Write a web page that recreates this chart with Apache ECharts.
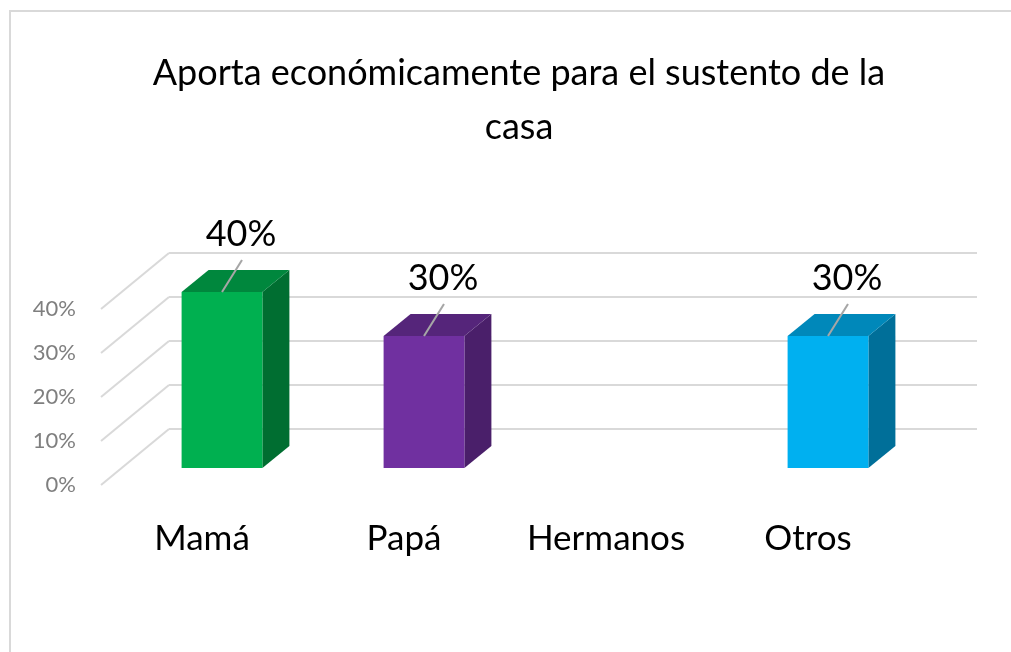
<!DOCTYPE html>
<html>
<head>
<meta charset="utf-8">
<script src="https://cdn.jsdelivr.net/npm/echarts@6/dist/echarts.min.js"></script>
<style>
  html, body { margin: 0; padding: 0; background: #fff; }
  #chart { width: 1011px; height: 652px; }
</style>
</head>
<body>
<div id="chart"></div>
<script>
// datos
var categories = ['Mamá', 'Papá', 'Hermanos', 'Otros'];
var values = [40, 30, 0, 30];
var yTicks = [0, 10, 20, 30, 40];

// colores de cada barra: frente, tapa, lado
var faceColors = ['#00B050', '#7030A0', '#00B0F0', '#00B0F0'];
var topColors = ['#00873D', '#55257A', '#0088BA', '#0088BA'];
var sideColors = ['#006E31', '#4A1F6A', '#006F99', '#006F99'];

var FONT = 'Lato';
var BAR_DEPTH = [27, -22];   // profundidad de la barra
var WALL_DEPTH = [68, -56];  // del borde del piso a la pared

var chart = echarts.init(document.getElementById('chart'));

var option = {
  backgroundColor: '#fff',
  animation: false,
  title: {
    text: 'Aporta económicamente para el sustento de la\ncasa',
    left: 514,
    top: 41,
    textAlign: 'center',
    textStyle: { fontFamily: FONT, fontWeight: 'normal', fontSize: 36, lineHeight: 54, color: '#000' }
  },
  graphic: [{
    type: 'rect',
    shape: { x: 10, y: 11, width: 1200, height: 1000 },
    style: { fill: 'none', stroke: '#d9d9d9', lineWidth: 2 },
    silent: true
  }],
  grid: [
    // plano frontal de las barras
    { left: 121, right: 82, top: 292, bottom: 184 },
    // borde frontal del piso (etiquetas)
    { left: 101, right: 102, top: 309, bottom: 167 },
    // pared del fondo
    { left: 169, right: 34, top: 253, bottom: 223 }
  ],
  xAxis: [
    { gridIndex: 0, type: 'category', data: categories, show: false },
    {
      gridIndex: 1, type: 'category', data: categories,
      axisLine: { show: false }, axisTick: { show: false },
      axisLabel: { interval: 0, margin: 36, fontFamily: FONT, fontSize: 35, color: '#000' }
    },
    { gridIndex: 2, type: 'category', data: categories, show: false }
  ],
  yAxis: [
    { gridIndex: 0, type: 'value', min: 0, max: 40, interval: 10, show: false },
    {
      gridIndex: 1, type: 'value', min: 0, max: 40, interval: 10,
      axisLine: { show: false }, axisTick: { show: false }, splitLine: { show: false },
      axisLabel: { margin: 25, fontFamily: FONT, fontSize: 22, color: '#7f7f7f', formatter: '{value}%' }
    },
    {
      gridIndex: 2, type: 'value', min: 0, max: 40, interval: 10,
      axisLine: { show: false }, axisTick: { show: false }, axisLabel: { show: false },
      splitLine: { lineStyle: { color: '#d9d9d9', width: 2 } }
    }
  ],
  series: [
    {
      // lineas diagonales del lado izquierdo
      type: 'custom',
      xAxisIndex: 1, yAxisIndex: 1,
      silent: true,
      data: yTicks.map(function (t) { return [0, t]; }),
      renderItem: function (params, api) {
        var p = api.coord([api.value(0), api.value(1)]);
        var half = api.size([1, 0])[0] / 2;
        var x0 = p[0] - half;
        return {
          type: 'line',
          shape: { x1: x0, y1: p[1], x2: x0 + WALL_DEPTH[0], y2: p[1] + WALL_DEPTH[1] },
          style: { stroke: '#d9d9d9', lineWidth: 2 }
        };
      }
    },
    {
      // barras 3D
      type: 'custom',
      xAxisIndex: 0, yAxisIndex: 0,
      silent: true,
      data: values.map(function (v, i) { return [i, v]; }),
      renderItem: function (params, api) {
        var i = api.value(0);
        var v = api.value(1);
        if (!v) return null;
        var top = api.coord([i, v]);
        var base = api.coord([i, 0]);
        var w = api.size([1, 0])[0] * 0.4;
        var xl = top[0] - w / 2, xr = top[0] + w / 2;
        var yt = top[1], yb = base[1];
        var dx = BAR_DEPTH[0], dy = BAR_DEPTH[1];
        return {
          type: 'group',
          children: [
            {
              type: 'polygon',
              shape: { points: [[xr, yt], [xr + dx, yt + dy], [xr + dx, yb + dy], [xr, yb]] },
              style: { fill: sideColors[i] }
            },
            {
              type: 'polygon',
              shape: { points: [[xl, yt], [xr, yt], [xr + dx, yt + dy], [xl + dx, yt + dy]] },
              style: { fill: topColors[i] }
            },
            {
              type: 'rect',
              shape: { x: xl, y: yt, width: w, height: yb - yt },
              style: { fill: faceColors[i] }
            },
            {
              type: 'line',
              shape: { x1: top[0], y1: yt, x2: top[0] + 20, y2: yt - 32 },
              style: { stroke: '#a6a6a6', lineWidth: 2 }
            },
            {
              type: 'text',
              style: {
                text: v + '%',
                x: top[0] + 19, y: yt - 58,
                align: 'center', verticalAlign: 'middle',
                fontFamily: FONT, fontSize: 36, fill: '#000'
              }
            }
          ]
        };
      }
    }
  ]
};

chart.setOption(option);
window.addEventListener('resize', function () { chart.resize(); });
</script>
</body>
</html>
